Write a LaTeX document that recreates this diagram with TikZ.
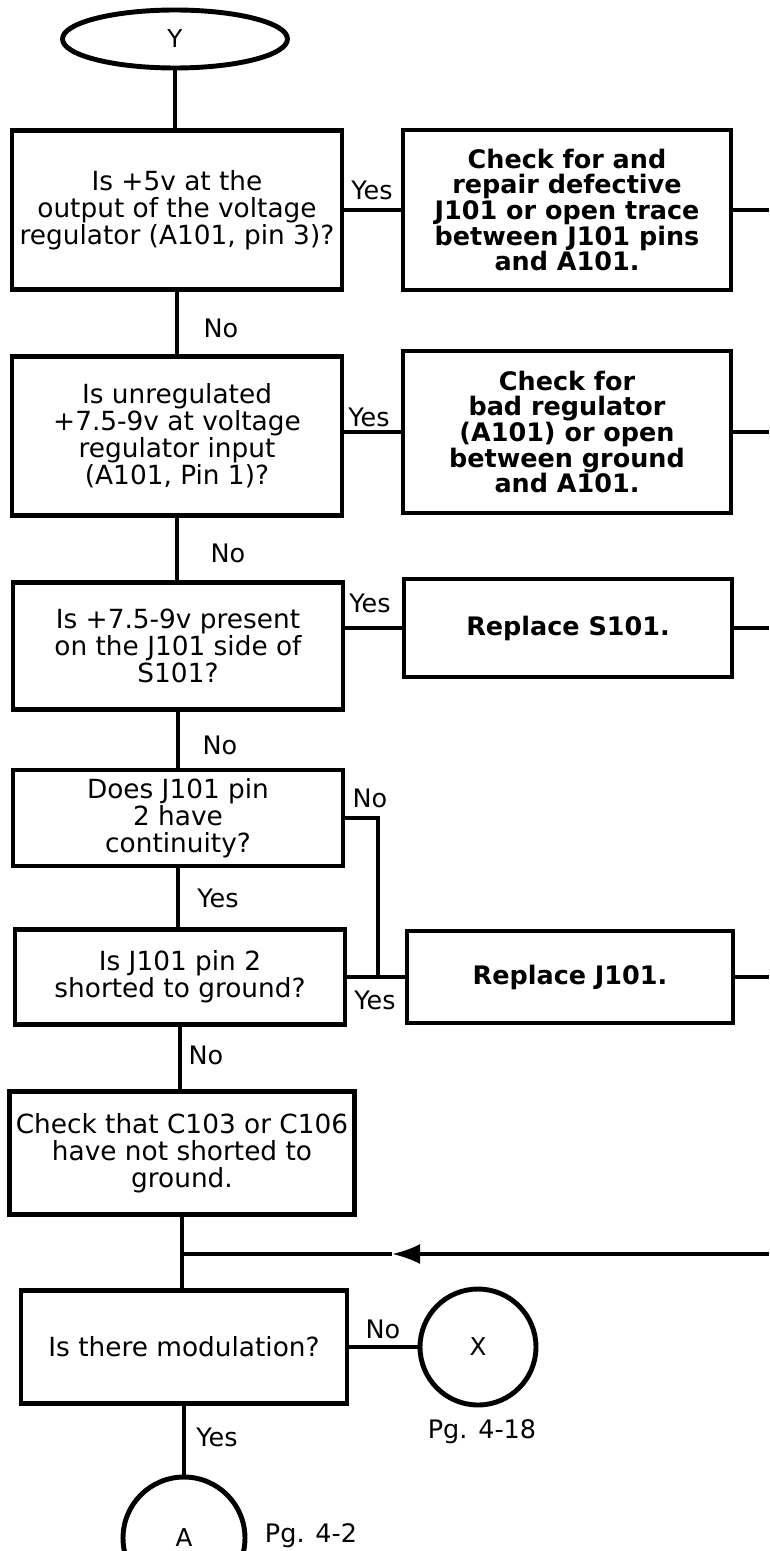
\documentclass[tikz,border=0pt]{standalone}
\usepackage{fontspec}
\setmainfont{DejaVu Sans}
\usetikzlibrary{shapes.geometric,arrows.meta}

\begin{document}
\begin{tikzpicture}[x=0.02cm,y=-0.02cm,
  qbox/.style={draw,line width=2.8pt,minimum width=6.6cm,align=center,font={\fontsize{15}{15.4}\selectfont}},
  fixbox/.style={draw,line width=2.8pt,minimum width=6.56cm,align=center,font={\bfseries\fontsize{14.5}{14.6}\selectfont}},
  lbl/.style={font={\fontsize{14.5}{15}\selectfont},inner sep=1pt},
  flow/.style={line width=2pt},
  conn/.style={draw,circle,line width=2.8pt,inner sep=0pt,font={\fontsize{14}{14}\selectfont}}]
\useasboundingbox (0,0) rectangle (769,1551);

\node[draw,ellipse,line width=2.8pt,minimum width=4.5cm,minimum height=1.16cm,font={\fontsize{14}{14}\selectfont}] (Y) at (175,39) {Y};

\node[qbox,minimum height=3.18cm] (q1) at (177,210) {Is +5v at the\\output of the voltage\\regulator (A101, pin 3)?};
\node[qbox,minimum height=3.18cm] (q2) at (177,436) {Is unregulated\\+7.5-9v at voltage\\regulator input\\(A101, Pin 1)?};
\node[qbox,minimum height=2.54cm] (q3) at (178,646) {Is +7.5-9v present\\on the J101 side of\\S101?};
\node[qbox,minimum height=1.92cm] (q4) at (178,818) {Does J101 pin\\2 have\\continuity?};
\node[qbox,minimum height=1.9cm] (q5) at (180,977) {Is J101 pin 2\\shorted to ground?};
\node[qbox,minimum height=2.46cm] (c1) at (182,1153) {Check that C103 or C106\\have not shorted to\\ground.};
\node[qbox,minimum height=2.26cm,minimum width=6.52cm] (q6) at (184,1347) {Is there modulation?};
\node[conn,minimum size=2.44cm] (A) at (184,1538) {A};
\node[conn,minimum size=2.32cm] (X) at (478,1347) {X};

\node[fixbox,minimum height=3.2cm] (r1) at (567,210) {Check for and\\repair defective\\J101 or open trace\\between J101 pins\\and A101.};
\node[fixbox,minimum height=3.24cm] (r2) at (567,432) {Check for\\bad regulator\\(A101) or open\\between ground\\and A101.};
\node[fixbox,minimum height=1.96cm] (r3) at (568,628) {Replace S101.};
\node[fixbox,minimum height=1.84cm,minimum width=6.52cm] (r4) at (570,977) {Replace J101.};

\coordinate (edge) at (769,0);
\coordinate (jn) at (378,0);
\coordinate (tip) at (392,1254);

\draw[flow] (Y) -- (Y |- q1.north);
\draw[flow] (q1) -- (q1 |- q2.north);
\draw[flow] (q2) -- (q2 |- q3.north);
\draw[flow] (q3) -- (q3 |- q4.north);
\draw[flow] (q4) -- (q4 |- q5.north);
\draw[flow] (q5) -- (q5 |- c1.north);
\draw[flow] (c1) -- (c1 |- q6.north);
\draw[flow] (q6) -- (q6 |- A.north);
\draw[flow] (q6) -- (X);

\draw[flow] (q1) -- (r1);
\draw[flow] (q2.east |- r2.west) -- (r2.west);
\draw[flow] (r3.west) -- (r3.west -| q3.east);
\draw[flow] (q5) -- (r4);
\draw[flow] (q4.east) -- (q4.east -| jn) -- (jn |- r4.west);

\draw[flow] (r1.east) -- (r1.east -| edge);
\draw[flow] (r2.east) -- (r2.east -| edge);
\draw[flow] (r3.east) -- (r3.east -| edge);
\draw[flow] (r4.east) -- (r4.east -| edge);
\draw[flow,-{Latex[length=0.56cm,width=0.4cm]}] (tip -| edge) -- (tip);
\draw[flow] (tip) -- (tip -| c1.south);

\node[lbl] (y1) at (372,190) {Yes};
\node[lbl] (n1) at (221,328) {No};
\node[lbl] (y2) at (369,417) {Yes};
\node[lbl] (n2) at (228,553) {No};
\node[lbl] (y3) at (370,603) {Yes};
\node[lbl] (n3) at (220,745) {No};
\node[lbl] (n4) at (370,798) {No};
\node[lbl] (y4) at (218,898) {Yes};
\node[lbl] (y5) at (375,1000) {Yes};
\node[lbl] (n5) at (206,1055) {No};
\node[lbl] (n6) at (383,1329) {No};
\node[lbl] (y6) at (217,1437) {Yes};
\node[lbl] (pg1) at (482,1432) {Pg. 4-18};
\node[lbl] (pg2) at (311,1536) {Pg. 4-2};
\end{tikzpicture}
\end{document}
